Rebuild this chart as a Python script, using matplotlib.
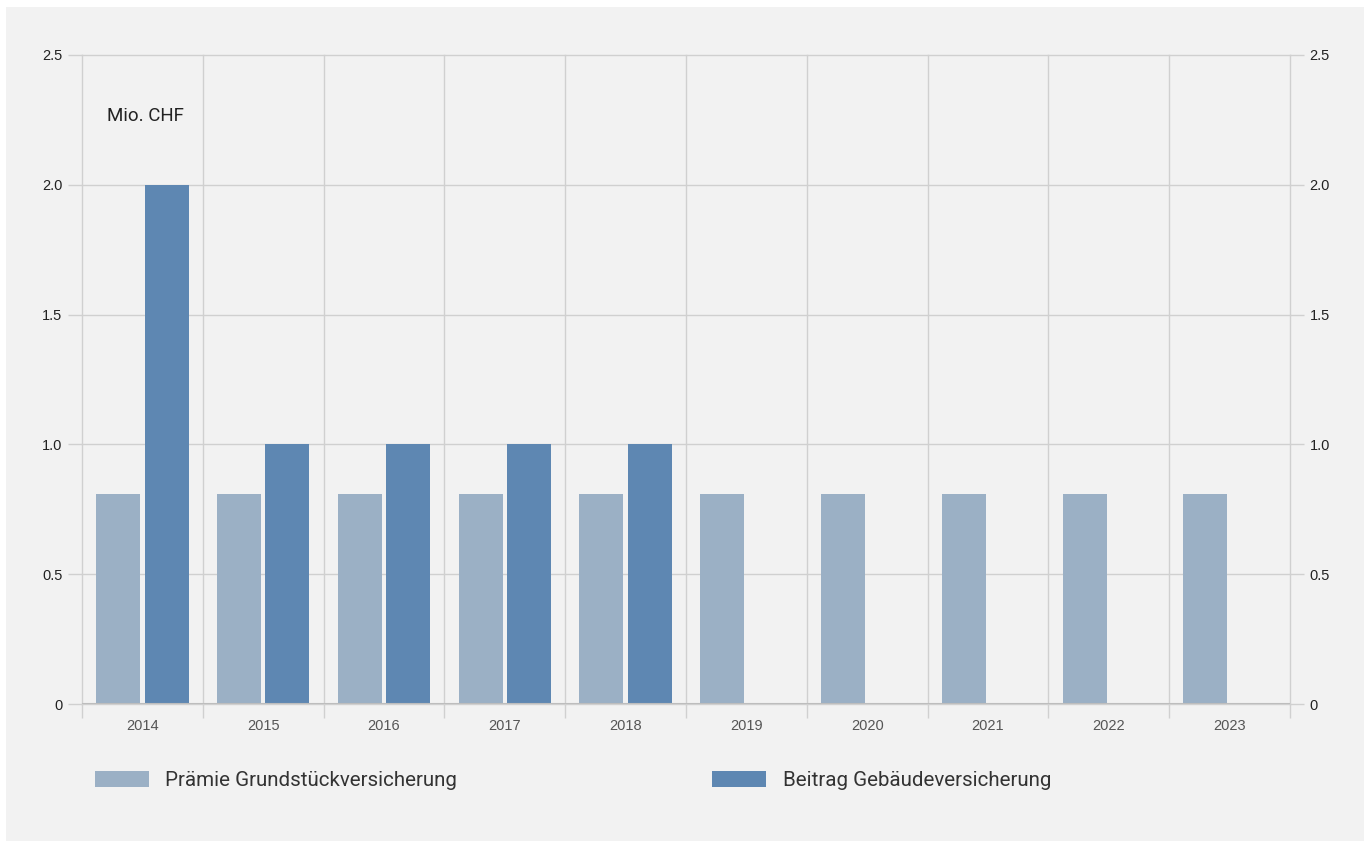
import matplotlib
matplotlib.use("Agg")
import matplotlib.pyplot as plt
from matplotlib.patches import Rectangle
import numpy as np

years = ["2014", "2015", "2016", "2017", "2018", "2019", "2020", "2021", "2022", "2023"]
praemie = [0.81, 0.81, 0.81, 0.81, 0.81, 0.81, 0.81, 0.81, 0.81, 0.81]
beitrag = [2.0, 1.0, 1.0, 1.0, 1.0, 0, 0, 0, 0, 0]
y_ticks = [0, 0.5, 1.0, 1.5, 2.0, 2.5]
y_labels = ["0", "0.5", "1.0", "1.5", "2.0", "2.5"]
series_names = ["Prämie Grundstückversicherung", "Beitrag Gebäudeversicherung"]

c_light = "#9bb0c5"
c_dark = "#5e87b2"
bg = "#f2f2f2"
grid_c = "#d0d0d0"

W, H = 1368, 843
fig = plt.figure(figsize=(W / 100, H / 100), dpi=100, facecolor="white")
fig.patches.append(Rectangle((6 / W, 2 / H), 1358 / W, 834 / H,
                             transform=fig.transFigure, facecolor=bg,
                             edgecolor="none", zorder=-10))

x0, x1, ytop, ybot = 82, 1290, 55, 704
ax = fig.add_axes([x0 / W, 1 - ybot / H, (x1 - x0) / W, (ybot - ytop) / H])
ax.set_zorder(5)
ax.set_facecolor(bg)

x = np.arange(len(years))
w = 0.364
off = 0.2
ax.bar(x - off, praemie, width=w, color=c_light, zorder=3)
ax.bar(x + off, beitrag, width=w, color=c_dark, zorder=3)

ax.set_xlim(-0.5, len(years) - 0.5)
ax.set_ylim(0, 2.5)

# grid: horizontal at values, vertical at category boundaries
for v in y_ticks:
    ax.axhline(v, color=grid_c, lw=1, zorder=1, clip_on=False)
for b in np.arange(-0.5, len(years), 1.0):
    ax.axvline(b, color=grid_c, lw=1, zorder=1, clip_on=False)
ax.axhline(0, color="#bdbdbd", lw=1.5, zorder=4)

for s in ax.spines.values():
    s.set_visible(False)

ax.set_xticks(np.arange(-0.5, len(years), 1.0), minor=False)
ax.set_xticklabels([])
ax.tick_params(axis="x", which="major", length=10, color=grid_c, width=1)
ax.set_xticks(x, minor=True)
ax.set_xticklabels(years, minor=True, fontfamily="Liberation Sans",
                   fontsize=10.5, color="#555555")
ax.tick_params(axis="x", which="minor", length=0, pad=11)

ax.set_yticks(y_ticks)
ax.set_yticklabels(y_labels, fontfamily="Liberation Sans", fontsize=10.5,
                   color="#222222")
ax.tick_params(axis="y", length=10, color=grid_c, width=1, pad=4,
               right=True, labelright=True)

ax.text(25 / (x1 - x0), (ybot - 116) / (ybot - ytop), "Mio. CHF",
        transform=ax.transAxes, fontfamily="Roboto", fontsize=13.5,
        color="#222222", va="center", ha="left")

# legend row below the plot
for (px, tx), col, lab in zip([(95, 165), (712, 783)], [c_light, c_dark], series_names):
    fig.patches.append(Rectangle((px / W, 1 - 787 / H), 54 / W, 16 / H,
                                 transform=fig.transFigure,
                                 facecolor=col, edgecolor="none"))
    fig.text(tx / W, 1 - 780 / H, lab, fontfamily="Roboto", fontsize=14.8,
             color="#333333", va="center", ha="left")

fig.savefig("out.png", dpi=100, facecolor="white")
